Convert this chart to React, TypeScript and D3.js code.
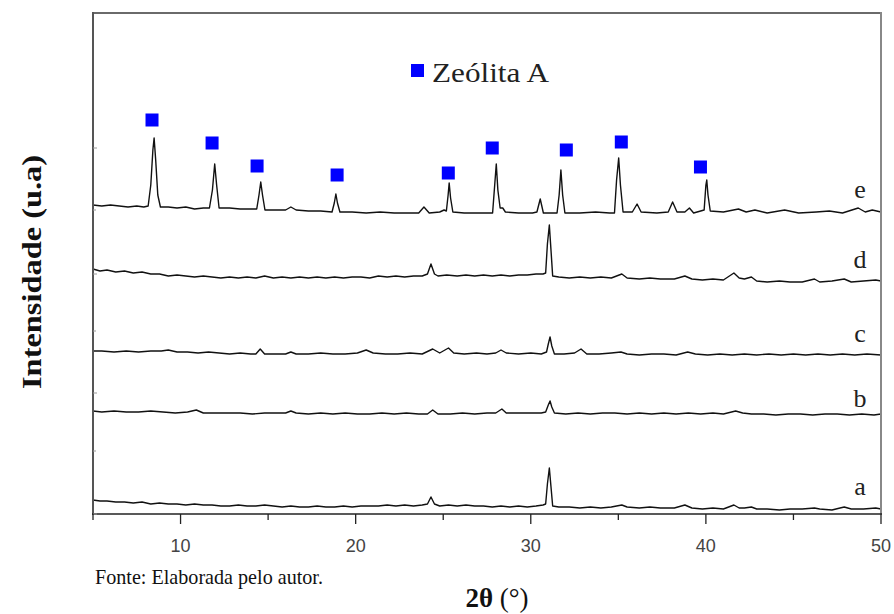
import React from 'react';
import * as d3 from 'd3';

type Pt = [number, number];

const xMajorTicks = [10, 20, 30, 40, 50];
const xMinorTicks = [5, 15, 25, 35, 45];
const yTicks = [0, 63, 121, 183, 240, 304, 366];

const seriesNames = ['a', 'b', 'c', 'd', 'e'];
const labelLevels = [19, 107, 172, 246, 316];

const seriesA: Pt[] = [
  [5.0, 14], [5.4, 13], [5.8, 13], [6.3, 12], [6.8, 12], [7.3, 11], [7.8, 12], [8.3, 10], [8.8, 11],
  [9.3, 10], [9.8, 10], [10.3, 9], [10.8, 10], [11.3, 9], [11.8, 9], [12.3, 8], [12.8, 8], [13.3, 9],
  [13.8, 8], [14.3, 8], [14.8, 9], [15.3, 8], [15.8, 7], [16.3, 8], [16.8, 7], [17.3, 7], [17.8, 8],
  [18.3, 7], [18.8, 7], [19.3, 8], [19.8, 7], [20.3, 8], [20.8, 8], [21.3, 8], [21.8, 9], [22.3, 8],
  [22.8, 9], [23.3, 8], [23.8, 9], [24.1, 10], [24.3, 17], [24.5, 10], [24.8, 8], [25.3, 9], [25.8, 8],
  [26.3, 9], [26.8, 8], [27.3, 8], [27.8, 7], [28.3, 8], [28.8, 7], [29.3, 8], [29.8, 7], [30.3, 8],
  [30.7, 9], [30.85, 10], [30.95, 30], [31.06, 46], [31.15, 28], [31.25, 8], [31.6, 7], [32.2, 7],
  [32.8, 6], [33.4, 7], [34.0, 6], [34.6, 7], [35.2, 9], [35.5, 7], [36.2, 6], [36.8, 7], [37.4, 6],
  [38.2, 6], [38.8, 9], [39.2, 6], [39.8, 5], [40.4, 6], [41.0, 5], [41.6, 9], [41.9, 6], [42.2, 6],
  [42.6, 7], [42.9, 5], [43.5, 5], [44.2, 4], [44.8, 5], [45.5, 5], [46.2, 6], [46.5, 5], [47.2, 4],
  [47.9, 7], [48.3, 5], [49.0, 5], [49.7, 6], [50.0, 5],
];

const seriesB: Pt[] = [
  [5.0, 103], [5.5, 102], [6.2, 103], [6.9, 102], [7.6, 102], [8.3, 103], [9.0, 102], [9.7, 101],
  [10.4, 102], [10.9, 104], [11.3, 101], [12.0, 101], [12.7, 101], [13.4, 101], [14.1, 100], [14.8, 101],
  [15.5, 101], [16.0, 101], [16.3, 103], [16.6, 101], [17.3, 100], [18.0, 101], [18.7, 100], [19.4, 101],
  [20.1, 100], [20.8, 100], [21.5, 101], [22.2, 100], [22.9, 101], [23.6, 100], [24.1, 100], [24.4, 104],
  [24.7, 100], [25.4, 100], [26.1, 101], [26.8, 100], [27.5, 101], [28.0, 101], [28.35, 105], [28.6, 101],
  [29.3, 101], [30.0, 101], [30.6, 101], [30.85, 102], [31.0, 109], [31.1, 113], [31.2, 107], [31.35, 101],
  [32.0, 100], [32.7, 101], [33.4, 100], [34.1, 101], [34.8, 101], [35.5, 100], [36.2, 101], [36.9, 100],
  [37.6, 101], [38.3, 100], [39.0, 101], [39.7, 100], [40.4, 101], [41.0, 100], [41.7, 103], [42.1, 101],
  [42.6, 100], [43.3, 100], [44.0, 99], [44.7, 100], [45.4, 100], [46.1, 99], [46.8, 100], [47.5, 100],
  [48.2, 99], [48.9, 100], [49.6, 99], [50.0, 100],
];

const seriesC: Pt[] = [
  [5.0, 163], [5.5, 163], [6.2, 162], [6.9, 163], [7.6, 162], [8.3, 163], [8.9, 163], [9.3, 164],
  [9.8, 162], [10.4, 162], [11.0, 161], [11.6, 162], [12.2, 161], [12.8, 160], [13.4, 161], [14.0, 160],
  [14.3, 160], [14.55, 165], [14.8, 160], [15.4, 160], [16.0, 160], [16.3, 162], [16.6, 160], [17.3, 160],
  [18.0, 161], [18.7, 160], [19.4, 160], [20.1, 161], [20.6, 164], [21.0, 161], [21.7, 160], [22.4, 160],
  [23.1, 161], [23.8, 160], [24.4, 165], [24.8, 161], [25.3, 166], [25.6, 161], [26.2, 160], [26.9, 161],
  [27.5, 160], [28.0, 161], [28.3, 164], [28.6, 161], [29.3, 160], [30.0, 161], [30.6, 160], [30.9, 162],
  [31.0, 170], [31.1, 177], [31.2, 168], [31.35, 160], [31.9, 160], [32.5, 161], [32.87, 165], [33.2, 160],
  [33.9, 160], [34.6, 161], [35.15, 162], [35.5, 160], [36.2, 159], [36.9, 160], [37.6, 160], [38.3, 159],
  [38.96, 162], [39.4, 160], [40.1, 159], [40.8, 160], [41.5, 159], [42.2, 160], [42.9, 159], [43.6, 160],
  [44.3, 159], [45.0, 160], [45.7, 159], [46.4, 160], [47.1, 159], [47.8, 160], [48.5, 159], [49.2, 160],
  [50.0, 159],
];

const seriesD: Pt[] = [
  [5.0, 245], [5.4, 243], [5.8, 244], [6.3, 242], [6.8, 243], [7.3, 241], [7.8, 242], [8.3, 240],
  [8.8, 240], [9.3, 238], [9.8, 239], [10.3, 238], [10.8, 237], [11.3, 238], [11.8, 237], [12.3, 236],
  [12.8, 237], [13.3, 236], [13.8, 237], [14.3, 236], [14.8, 238], [15.3, 236], [15.8, 237], [16.3, 236],
  [16.8, 237], [17.3, 236], [17.8, 237], [18.3, 236], [18.8, 237], [19.3, 236], [19.8, 237], [20.3, 237],
  [20.8, 236], [21.3, 238], [21.8, 237], [22.3, 238], [22.8, 237], [23.3, 238], [23.8, 238], [24.1, 240],
  [24.3, 250], [24.5, 240], [24.7, 238], [25.2, 239], [25.8, 238], [26.3, 239], [26.8, 238], [27.3, 239],
  [27.8, 238], [28.3, 239], [28.8, 238], [29.3, 239], [29.8, 239], [30.3, 240], [30.7, 240], [30.85, 241],
  [30.95, 270], [31.06, 289], [31.15, 265], [31.25, 238], [31.6, 237], [32.2, 236], [32.8, 237], [33.4, 236],
  [34.0, 237], [34.6, 236], [35.2, 240], [35.5, 236], [36.2, 235], [36.8, 236], [37.4, 235], [38.2, 235],
  [38.8, 238], [39.2, 235], [39.8, 234], [40.4, 235], [41.0, 234], [41.6, 241], [41.9, 236], [42.2, 235],
  [42.6, 237], [42.9, 233], [43.5, 232], [44.2, 233], [44.8, 232], [45.5, 232], [46.2, 235], [46.5, 232],
  [47.2, 233], [47.9, 235], [48.3, 232], [49.0, 233], [49.7, 234], [50.0, 233],
];

const seriesE: Pt[] = [
  [5.0, 309], [5.5, 308], [6.0, 309], [6.5, 308], [7.0, 307], [7.5, 308], [7.9, 307], [8.15, 308],
  [8.3, 329], [8.42, 364], [8.49, 376], [8.58, 354], [8.7, 319], [8.85, 307], [9.3, 307], [9.8, 306],
  [10.3, 307], [10.8, 305], [11.3, 306], [11.65, 306], [11.82, 324], [11.95, 350], [12.06, 329], [12.2, 306],
  [12.8, 306], [13.4, 305], [14.0, 305], [14.35, 305], [14.48, 319], [14.58, 332], [14.68, 319], [14.82, 304],
  [15.4, 304], [16.0, 304], [16.3, 307], [16.6, 304], [17.3, 303], [18.0, 303], [18.65, 302], [18.78, 311],
  [18.87, 320], [18.96, 311], [19.1, 302], [19.8, 302], [20.6, 301], [21.4, 302], [22.2, 301], [23.0, 301],
  [23.6, 301], [23.9, 307], [24.2, 301], [24.8, 302], [25.05, 304], [25.18, 303], [25.28, 319], [25.34, 331],
  [25.42, 316], [25.55, 302], [26.2, 301], [27.0, 301], [27.6, 301], [27.82, 301], [27.94, 329], [28.03, 350],
  [28.12, 324], [28.25, 306], [28.4, 306], [28.55, 302], [29.3, 301], [30.1, 301], [30.35, 302], [30.54, 315],
  [30.72, 301], [31.2, 301], [31.5, 301], [31.62, 319], [31.72, 344], [31.82, 319], [31.95, 301], [32.8, 301],
  [33.7, 302], [34.5, 301], [34.78, 301], [34.9, 334], [35.02, 356], [35.12, 329], [35.27, 302], [35.8, 302],
  [36.07, 310], [36.3, 302], [37.2, 301], [37.85, 302], [38.1, 312], [38.35, 302], [38.8, 302], [39.06, 306],
  [39.3, 301], [39.7, 303], [39.9, 304], [40.0, 329], [40.05, 334], [40.12, 319], [40.25, 303], [41.0, 302],
  [41.86, 305], [42.3, 302], [42.8, 304], [43.5, 301], [44.5, 304], [45.3, 301], [46.3, 302], [47.05, 303],
  [47.8, 301], [48.7, 306], [49.1, 302], [49.5, 304], [50.0, 302],
];

const allSeries = [seriesA, seriesB, seriesC, seriesD, seriesE];

// Zeolite A peak markers (2θ, intensity)
const zeoliteMarkers: Pt[] = [
  [8.37, 394], [11.8, 371], [14.37, 348], [18.94, 339], [25.29, 341],
  [27.8, 366], [32.03, 364], [35.17, 372], [39.69, 347],
];

const legendText = 'Zeólita A';
const yLabel = 'Intensidade (u.a)';
const sourceText = 'Fonte: Elaborada pelo autor.';

export default function App() {
  const W = 894;
  const H = 614;
  const left = 93;
  const right = 881;
  const top = 13;
  const bottom = 514;

  const x = d3.scaleLinear().domain([5, 50]).range([left, right]);
  const y = d3.scaleLinear().domain([0, 501]).range([bottom, top]);

  const line = d3
    .line<Pt>()
    .x((d) => x(d[0]))
    .y((d) => y(d[1]));

  const sq = 13;
  const serif = '"Liberation Serif"';
  const sans = '"Liberation Sans", Arial, sans-serif';

  return (
    <svg
      width={W}
      height={H}
      viewBox={`0 0 ${W} ${H}`}
      style={{ position: 'absolute', left: 0, top: 0, background: '#fff' }}
    >
      <rect x={0} y={0} width={W} height={H} fill="#fff" />

      {/* series */}
      {allSeries.map((s, i) => (
        <path
          key={seriesNames[i]}
          d={line(s) || ''}
          fill="none"
          stroke="#111"
          strokeWidth={1.4}
          strokeLinejoin="round"
        />
      ))}

      {/* frame */}
      <line x1={left} x2={right} y1={top} y2={top} stroke="#6a6a6a" strokeWidth={2} />
      <line x1={left} x2={left} y1={top - 1} y2={bottom + 1} stroke="#555" strokeWidth={2} />
      <line x1={right} x2={right} y1={top - 1} y2={bottom} stroke="#888" strokeWidth={2} />
      <line x1={left - 1} x2={right + 1} y1={bottom} y2={bottom} stroke="#222" strokeWidth={1.6} />

      {/* left axis tiny ticks */}
      {yTicks.map((t, i) => (
        <line
          key={'yt' + t}
          x1={left}
          x2={left + (i % 2 === 0 ? 4 : 3)}
          y1={y(t)}
          y2={y(t)}
          stroke="#999"
          strokeWidth={1}
        />
      ))}

      {/* x ticks */}
      {xMajorTicks.map((t) => (
        <line key={'xM' + t} x1={x(t)} x2={x(t)} y1={bottom} y2={bottom + 10} stroke="#222" strokeWidth={1.3} />
      ))}
      {xMinorTicks.map((t) => (
        <line key={'xm' + t} x1={x(t)} x2={x(t)} y1={bottom} y2={bottom + 6} stroke="#222" strokeWidth={1.3} />
      ))}
      {xMajorTicks.map((t) => (
        <text
          key={'xl' + t}
          x={x(t)}
          y={552}
          textAnchor="middle"
          fontFamily={sans}
          fontSize={18}
          fill="#444"
        >
          {t}
        </text>
      ))}

      {/* markers */}
      {zeoliteMarkers.map((m, i) => (
        <rect
          key={'mk' + i}
          x={x(m[0]) - sq / 2}
          y={y(m[1]) - sq / 2}
          width={sq}
          height={sq}
          fill="#0000ff"
        />
      ))}

      {/* legend */}
      <rect x={411} y={64} width={13} height={13} fill="#0000ff" />
      <text x={432} y={82} fontFamily={serif} fontSize={27} fill="#222" textLength={117} lengthAdjust="spacingAndGlyphs">
        {legendText}
      </text>

      {/* series labels */}
      {seriesNames.map((n, i) => (
        <text
          key={'lab' + n}
          x={x(48.8)}
          y={y(labelLevels[i])}
          textAnchor="middle"
          fontFamily={serif}
          fontSize={26}
          fill="#222"
        >
          {n}
        </text>
      ))}

      {/* y label */}
      <text
        transform={`translate(41, 272) rotate(-90)`}
        textAnchor="middle"
        fontFamily={serif}
        fontWeight="bold"
        fontSize={27}
        fill="#111"
        textLength={234}
        lengthAdjust="spacingAndGlyphs"
      >
        {yLabel}
      </text>

      {/* source */}
      <text x={95} y={584} fontFamily={serif} fontSize={21} fill="#111" textLength={228} lengthAdjust="spacingAndGlyphs">
        {sourceText}
      </text>

      {/* x label */}
      <text x={497} y={607} textAnchor="middle" fontFamily={serif} fontSize={27} fill="#111">
        <tspan fontWeight="bold">2θ</tspan>
        <tspan> (°)</tspan>
      </text>
    </svg>
  );
}
